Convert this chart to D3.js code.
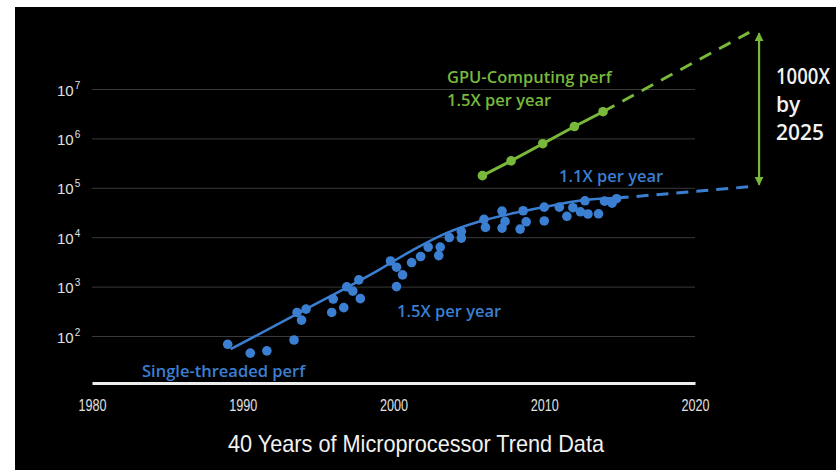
<!DOCTYPE html>
<html>
<head>
<meta charset="utf-8">
<script src="https://cdn.jsdelivr.net/npm/d3@7"></script>
<style>
  body { margin: 0; background: #fff; }
  svg { display: block; }
  .ann { font-family: "Open Sans", sans-serif; font-size: 16.5px; font-weight: 600; }
</style>
</head>
<body>
<svg id="chart"></svg>
<script>
// single-threaded perf samples (year, relative perf)
const stYears = [1989.0, 1990.5, 1991.6, 1993.4, 1993.6, 1993.9, 1994.2, 1995.9, 1996.0, 1996.7,
  1996.9, 1997.3, 1997.7, 1997.8, 1999.8, 2000.2, 2000.6, 2000.2, 2001.2, 2001.8,
  2002.3, 2003.1, 2003.0, 2003.7, 2004.5, 2004.5, 2006.0, 2006.1, 2007.2, 2007.4,
  2007.2, 2008.6, 2008.8, 2008.4, 2010.0, 2010.0, 2011.0, 2011.5, 2011.9, 2012.4,
  2012.9, 2013.6, 2012.7, 2014.0, 2014.5, 2014.8];
const stPerf = [68, 45, 50, 83, 300, 210, 350, 300, 560, 375,
  990, 810, 1370, 570, 3300, 2470, 1730, 1000, 3070, 4070,
  6300, 6300, 4240, 9860, 13000, 9600, 22900, 15800, 33800, 20900,
  15300, 34300, 20500, 14600, 40600, 21300, 40600, 26500, 39500, 32700,
  29500, 29800, 54600, 53700, 49000, 60200];

// fitted single-threaded trend
const stTrendYears = [1989.2, 1994.2, 1999.1, 2001.3, 2003.5, 2005.7, 2008.0, 2010.2, 2012.4, 2014.8];
const stTrendPerf = [54, 350, 2240, 5540, 12100, 20800, 30800, 41900, 55400, 61900];
const stProjYears = [2014.8, 2023.6];
const stProjPerf = [61900, 105000];

// GPU-computing perf
const gpuYears = [2005.9, 2007.8, 2009.9, 2012.0, 2013.9];
const gpuPerf = [176000, 350000, 780000, 1740000, 3470000];
const gpuProjYears = [2013.9, 2023.6];
const gpuProjPerf = [3470000, 140000000];

// 1000X gap arrow
const gapYear = 2024.25;
const gapPerf = [115000, 135000000];

const xTicks = [1980, 1990, 2000, 2010, 2020];
const yExponents = [2, 3, 4, 5, 6, 7];

const W = 836, H = 470;
const green = "#78b83a", blue = "#3b7fd2";
const narrow = "'Liberation Sans Narrow', 'Liberation Sans', sans-serif";

const svg = d3.select("#chart").attr("width", W).attr("height", H);

svg.append("rect")
   .attr("x", 15).attr("y", 7)
   .attr("width", W - 15).attr("height", H - 7)
   .attr("fill", "#000");

const x = d3.scaleLinear().domain([1980, 2020]).range([92, 695]);
const y = d3.scaleLog().domain([1e2, 1e7]).range([336, 89]);
const axisY = 383;

// grid lines + y labels
const gy = svg.append("g")
   .attr("transform", "translate(92,0)")
   .call(d3.axisLeft(y)
     .tickValues(yExponents.map(e => Math.pow(10, e)))
     .tickSize(-(695 - 92))
     .tickFormat(""));
gy.select(".domain").remove();
gy.selectAll(".tick line").attr("stroke", "#3a3a3a").attr("stroke-width", 1);
gy.selectAll(".tick text").remove();
gy.selectAll(".tick").each(function(d) {
  const t = d3.select(this).append("text")
    .attr("x", -35).attr("y", 6)
    .attr("text-anchor", "start")
    .attr("fill", "#e0e0e0")
    .style("font-family", narrow);
  t.append("tspan")
    .style("font-size", "15px")
    .text("10");
  t.append("tspan")
    .attr("dx", 1).attr("dy", -7)
    .style("font-size", "10px")
    .text(Math.round(Math.log10(d)));
});

// x axis
const gx = svg.append("g")
   .attr("transform", `translate(0,${axisY})`)
   .call(d3.axisBottom(x).tickValues(xTicks).tickSize(0).tickPadding(17)
     .tickFormat(d3.format("d")));
gx.select(".domain").attr("stroke", "#eee").attr("stroke-width", 3);
gx.selectAll(".tick text")
  .attr("fill", "#e0e0e0")
  .attr("textLength", 28).attr("lengthAdjust", "spacingAndGlyphs")
  .style("font-family", narrow)
  .style("font-size", "16px");

const line = d3.line().x(d => x(d[0])).y(d => y(d[1]));
const smooth = d3.line().x(d => x(d[0])).y(d => y(d[1])).curve(d3.curveMonotoneX);

// projections
svg.append("path")
   .datum(d3.zip(stProjYears, stProjPerf))
   .attr("d", line).attr("fill", "none")
   .attr("stroke", blue).attr("stroke-width", 3)
   .attr("stroke-dasharray", "12 8");
svg.append("path")
   .datum(d3.zip(gpuProjYears, gpuProjPerf))
   .attr("d", line).attr("fill", "none")
   .attr("stroke", green).attr("stroke-width", 3)
   .attr("stroke-dasharray", "13 9");

// single-threaded dots + trend
svg.append("g").selectAll("circle")
   .data(d3.zip(stYears, stPerf))
   .join("circle")
   .attr("cx", d => x(d[0])).attr("cy", d => y(d[1]))
   .attr("r", 4.8).attr("fill", blue);
svg.append("path")
   .datum(d3.zip(stTrendYears, stTrendPerf))
   .attr("d", smooth).attr("fill", "none")
   .attr("stroke", blue).attr("stroke-width", 2.5);

// GPU line + dots
svg.append("path")
   .datum(d3.zip(gpuYears, gpuPerf))
   .attr("d", line).attr("fill", "none")
   .attr("stroke", green).attr("stroke-width", 3);
svg.append("g").selectAll("circle")
   .data(d3.zip(gpuYears, gpuPerf))
   .join("circle")
   .attr("cx", d => x(d[0])).attr("cy", d => y(d[1]))
   .attr("r", 4.8).attr("fill", green);

// gap arrow
const defs = svg.append("defs");
["start", "end"].forEach(k => {
  defs.append("marker")
    .attr("id", "ah-" + k)
    .attr("viewBox", "0 0 10 10")
    .attr("refX", 9).attr("refY", 5)
    .attr("markerWidth", 4).attr("markerHeight", 4.5)
    .attr("markerUnits", "strokeWidth")
    .attr("orient", k === "start" ? "auto-start-reverse" : "auto")
    .append("path").attr("d", "M0,0 L10,5 L0,10 z").attr("fill", green);
});
svg.append("line")
   .attr("x1", x(gapYear)).attr("x2", x(gapYear))
   .attr("y1", y(gapPerf[0])).attr("y2", y(gapPerf[1]))
   .attr("stroke", green).attr("stroke-width", 2.2)
   .attr("marker-start", "url(#ah-start)")
   .attr("marker-end", "url(#ah-end)");

// annotations
const ann = (tx, ty, str, col) => svg.append("text")
   .attr("class", "ann").attr("x", tx).attr("y", ty)
   .attr("fill", col).text(str);
ann(447, 83, "GPU-Computing perf", green);
ann(447, 106, "1.5X per year", green);
ann(559, 182, "1.1X per year", blue);
ann(397, 317, "1.5X per year", blue);
ann(142, 377, "Single-threaded perf", blue);

["1000X", "by", "2025"].forEach((s, i) => {
  const t = svg.append("text")
     .attr("x", 776).attr("y", 84 + i * 28)
     .attr("fill", "#f2f2f2")
     .style("font-family", "'Open Sans', sans-serif")
     .style("font-size", "21px")
     .style("font-weight", 600)
     .text(s);
  if (i === 0) t.attr("textLength", 54).attr("lengthAdjust", "spacingAndGlyphs");
});

svg.append("text")
   .attr("x", 416).attr("y", 452)
   .attr("text-anchor", "middle")
   .attr("fill", "#f2f2f2")
   .attr("textLength", 376).attr("lengthAdjust", "spacingAndGlyphs")
   .style("font-family", narrow)
   .style("font-size", "24px")
   .text("40 Years of Microprocessor Trend Data");
</script>
</body>
</html>
